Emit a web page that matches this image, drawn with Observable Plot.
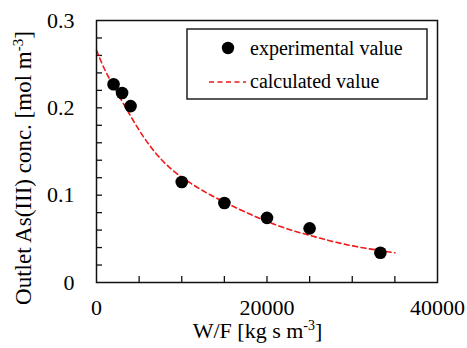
<!DOCTYPE html>
<html>
<head>
<meta charset="utf-8">
<script src="https://cdn.jsdelivr.net/npm/d3@7"></script>
<script src="https://cdn.jsdelivr.net/npm/@observablehq/plot@0.6"></script>
<style>
  html, body { margin: 0; padding: 0; background: #fff; }
  svg { display: block; }
</style>
</head>
<body>
<div id="chart"></div>
<script>
// Experimental data (W/F in kg s m^-3, outlet As(III) concentration in mol m^-3)
const expWF   = [2000, 3000, 4000, 10000, 15000, 20000, 25000, 33300];
const expConc = [0.227, 0.217, 0.202, 0.115, 0.091, 0.074, 0.062, 0.034];

// Calculated curve
const calcWF   = [0, 1000, 2000, 3500, 5500, 7500, 9000, 11000, 12500, 15000, 16500, 20000, 22500, 25000, 29500, 33300, 35000];
const calcConc = [0.266, 0.243, 0.225, 0.199, 0.167, 0.142, 0.128, 0.114, 0.105, 0.092, 0.085, 0.070, 0.061, 0.054, 0.043, 0.0365, 0.034];

// Axis ticks
const xTickVals  = [0, 20000, 40000];
const yTickVals  = [0, 0.1, 0.2, 0.3];
const xMinorTicks = [5000, 10000, 15000, 20000, 25000, 30000, 35000];
const yMinorTicks = [0.02, 0.04, 0.06, 0.08, 0.1, 0.12, 0.14, 0.16, 0.18, 0.2, 0.22, 0.24, 0.26, 0.28];

// Labels
const xTitle = ["W/F [kg s m", "-3", "]"];
const yTitle = ["Outlet As(III) conc. [mol m", "-3", "]"];
const legendLabels = ["experimental value", "calculated value"];

const expData = expWF.map((x, i) => ({x, y: expConc[i]}));
const calcData = calcWF.map((x, i) => ({x, y: calcConc[i]}));

const W = 467, H = 348;
const mL = 96, mR = 30, mT = 20, mB = 66;
const innerW = W - mL - mR, innerH = H - mT - mB;
const tickLen = 6;
const FONT = "'Liberation Serif', 'Times New Roman', serif";

const chart = Plot.plot({
  width: W,
  height: H,
  marginLeft: mL,
  marginRight: mR,
  marginTop: mT,
  marginBottom: mB,
  style: {fontFamily: FONT, fontSize: "22px", background: "white", color: "black"},
  x: {domain: [0, 40000], label: null},
  y: {domain: [0, 0.3], label: null},
  marks: [
    Plot.tickX(xMinorTicks, {x: d => d, insetTop: innerH - tickLen, stroke: "#111", strokeWidth: 1.3}),
    Plot.tickY(yMinorTicks, {y: d => d, insetRight: innerW - tickLen, stroke: "#111", strokeWidth: 1.3}),
    Plot.axisX(xTickVals, {tickSize: 0, tickPadding: 17, tickFormat: d3.format("d"), label: null, fontSize: 22}),
    Plot.axisY(yTickVals, {tickSize: 0, tickPadding: 22, tickFormat: d => d === 0 ? "0" : d3.format(".1f")(d), label: null, fontSize: 22}),
    Plot.line(calcData, {x: "x", y: "y", stroke: "#f01818", strokeWidth: 1.6, strokeDasharray: "5,3.5", curve: "monotone-x"}),
    Plot.dot(expData, {x: "x", y: "y", r: 6.3, fill: "black", stroke: "none"}),
    Plot.frame({stroke: "#111", strokeWidth: 1.5})
  ]
});

document.getElementById("chart").appendChild(chart);

const svg = d3.select(chart);
const xs = chart.scale("x"), ys = chart.scale("y");

// x-axis title
const xt = svg.append("text")
  .attr("x", (xs.apply(0) + xs.apply(40000)) / 2 - 9)
  .attr("y", 338)
  .attr("text-anchor", "middle")
  .attr("font-family", FONT)
  .style("font-family", FONT).style("font-size", "22px").attr("fill", "black");
xt.append("tspan").text(xTitle[0]);
xt.append("tspan").attr("dy", -8).style("font-size", "14px").text(xTitle[1]);
xt.append("tspan").attr("dy", 8).text(xTitle[2]);

// y-axis title
const yt = svg.append("text")
  .attr("transform", `translate(31,${(ys.apply(0) + ys.apply(0.3)) / 2 + 17}) rotate(-90)`)
  .attr("text-anchor", "middle")
  .attr("font-family", FONT)
  .style("font-family", FONT).style("font-size", "23px").attr("fill", "black");
yt.append("tspan").text(yTitle[0]);
yt.append("tspan").attr("dy", -8).style("font-size", "15px").text(yTitle[1]);
yt.append("tspan").attr("dy", 8).text(yTitle[2]);

// legend
const lg = svg.append("g").attr("font-family", FONT).style("font-family", FONT);
lg.append("rect").attr("x", 187).attr("y", 29).attr("width", 240).attr("height", 70)
  .attr("fill", "white").attr("stroke", "#111").attr("stroke-width", 1.4);
lg.append("circle").attr("cx", 228).attr("cy", 48).attr("r", 6.2).attr("fill", "black");
lg.append("line").attr("x1", 209).attr("x2", 246).attr("y1", 82).attr("y2", 82)
  .attr("stroke", "#f01818").attr("stroke-width", 1.6).attr("stroke-dasharray", "5,3.5");
lg.append("text").attr("x", 250).attr("y", 55).attr("text-anchor", "start").text(legendLabels[0])
  .style("font-family", FONT).style("font-size", "20px").attr("fill", "black");
lg.append("text").attr("x", 250).attr("y", 88).attr("text-anchor", "start").text(legendLabels[1])
  .style("font-family", FONT).style("font-size", "20px").attr("fill", "black");
</script>
</body>
</html>
